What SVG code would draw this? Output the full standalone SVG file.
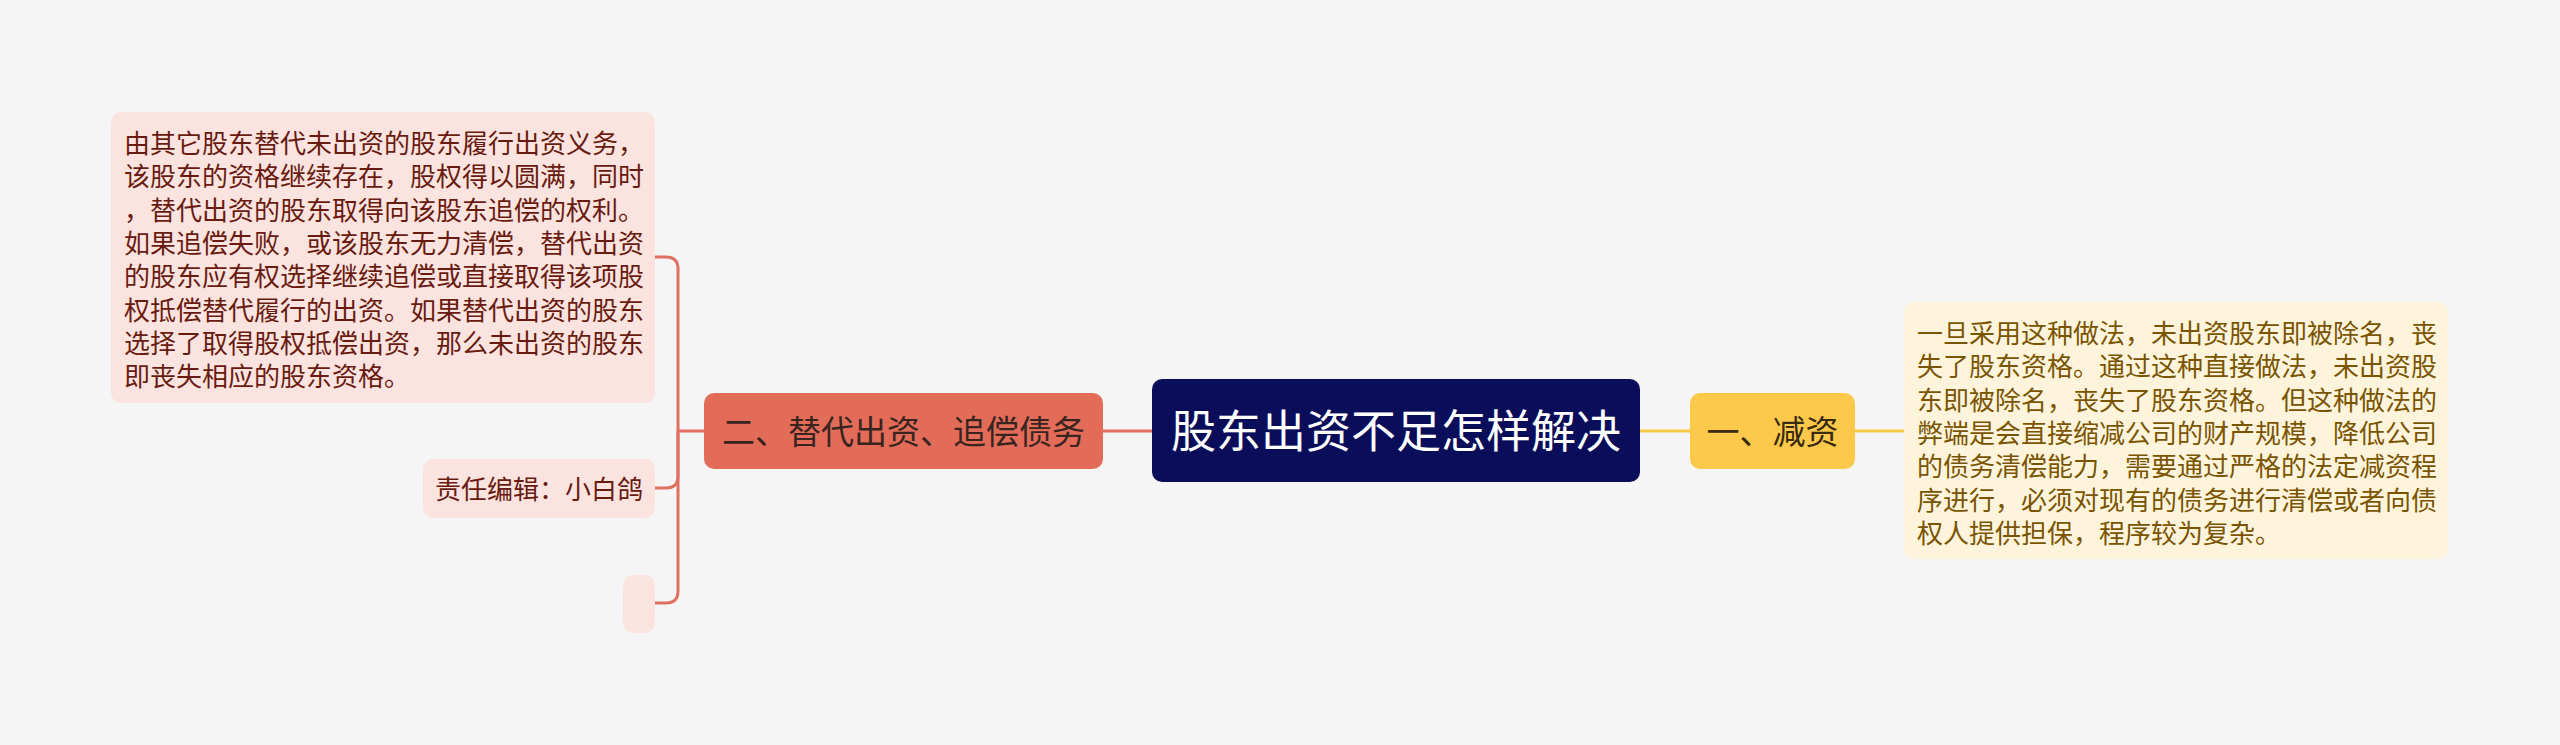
<svg xmlns="http://www.w3.org/2000/svg" width="2560" height="745" viewBox="0 0 2560 745">
<style>
text{font-family:"Noto Sans CJK SC","Noto Sans",sans-serif}
.red{fill:none;stroke:#E07060;stroke-width:3}
.yel{fill:none;stroke:#F7C746;stroke-width:3}
.lt{font-size:26px;fill:#6A1B10}
.rt{font-size:26px;fill:#7A5400}
</style>
<rect width="2560" height="745" fill="#F5F5F5"/>
<g id="connectors">
<path class="red" d="M1152,431 H1103"/>
<path class="red" d="M704,431 H678"/>
<path class="red" d="M678,431 V269 Q678,257 666,257 H655"/>
<path class="red" d="M678,431 V476 Q678,488 666,488 H655"/>
<path class="red" d="M678,431 V591 Q678,603 666,603 H655"/>
<path class="yel" d="M1640,431 H1690"/>
<path class="yel" d="M1855,431 H1905"/>
</g>
<g id="root">
<rect x="1152" y="379" width="488" height="103" rx="10" fill="#0A0E5A"/>
<text x="1396" y="448" font-size="45" fill="#FFFFFF" text-anchor="middle">股东出资不足怎样解决</text>
</g>
<g id="branch-left">
<rect x="704" y="393" width="399" height="76" rx="10" fill="#E36C59"/>
<text x="903.5" y="443.5" font-size="33" fill="#3A2420" text-anchor="middle">二、替代出资、追偿债务</text>
</g>
<g id="branch-right">
<rect x="1690" y="393" width="165" height="76" rx="10" fill="#FCC94A"/>
<text x="1772.5" y="443.5" font-size="33" fill="#3A2A10" text-anchor="middle">一、减资</text>
</g>
<g id="leaf-left-text">
<rect x="111" y="112" width="544" height="291" rx="10" fill="#FBE4E0"/>
<text class="lt" x="124">
<tspan x="124" y="153">由其它股东替代未出资的股东履行出资义务，</tspan>
<tspan x="124" y="186.3">该股东的资格继续存在，股权得以圆满，同时</tspan>
<tspan x="124" y="219.7">，替代出资的股东取得向该股东追偿的权利。</tspan>
<tspan x="124" y="253">如果追偿失败，或该股东无力清偿，替代出资</tspan>
<tspan x="124" y="286.3">的股东应有权选择继续追偿或直接取得该项股</tspan>
<tspan x="124" y="319.7">权抵偿替代履行的出资。如果替代出资的股东</tspan>
<tspan x="124" y="353">选择了取得股权抵偿出资，那么未出资的股东</tspan>
<tspan x="124" y="386.3">即丧失相应的股东资格。</tspan>
</text>
</g>
<g id="leaf-editor">
<rect x="423" y="459" width="232" height="59" rx="10" fill="#FBE4E0"/>
<text class="lt" x="539" y="499" text-anchor="middle">责任编辑：小白鸽</text>
</g>
<g id="leaf-empty">
<rect x="623" y="575" width="32" height="58" rx="10" fill="#FBE4E0"/>
</g>
<g id="leaf-right-text">
<rect x="1904" y="302" width="544" height="257" rx="10" fill="#FEF4DC"/>
<text class="rt">
<tspan x="1917" y="343">一旦采用这种做法，未出资股东即被除名，丧</tspan>
<tspan x="1917" y="376.3">失了股东资格。通过这种直接做法，未出资股</tspan>
<tspan x="1917" y="409.7">东即被除名，丧失了股东资格。但这种做法的</tspan>
<tspan x="1917" y="443">弊端是会直接缩减公司的财产规模，降低公司</tspan>
<tspan x="1917" y="476.3">的债务清偿能力，需要通过严格的法定减资程</tspan>
<tspan x="1917" y="509.7">序进行，必须对现有的债务进行清偿或者向债</tspan>
<tspan x="1917" y="543">权人提供担保，程序较为复杂。</tspan>
</text>
</g>
</svg>
